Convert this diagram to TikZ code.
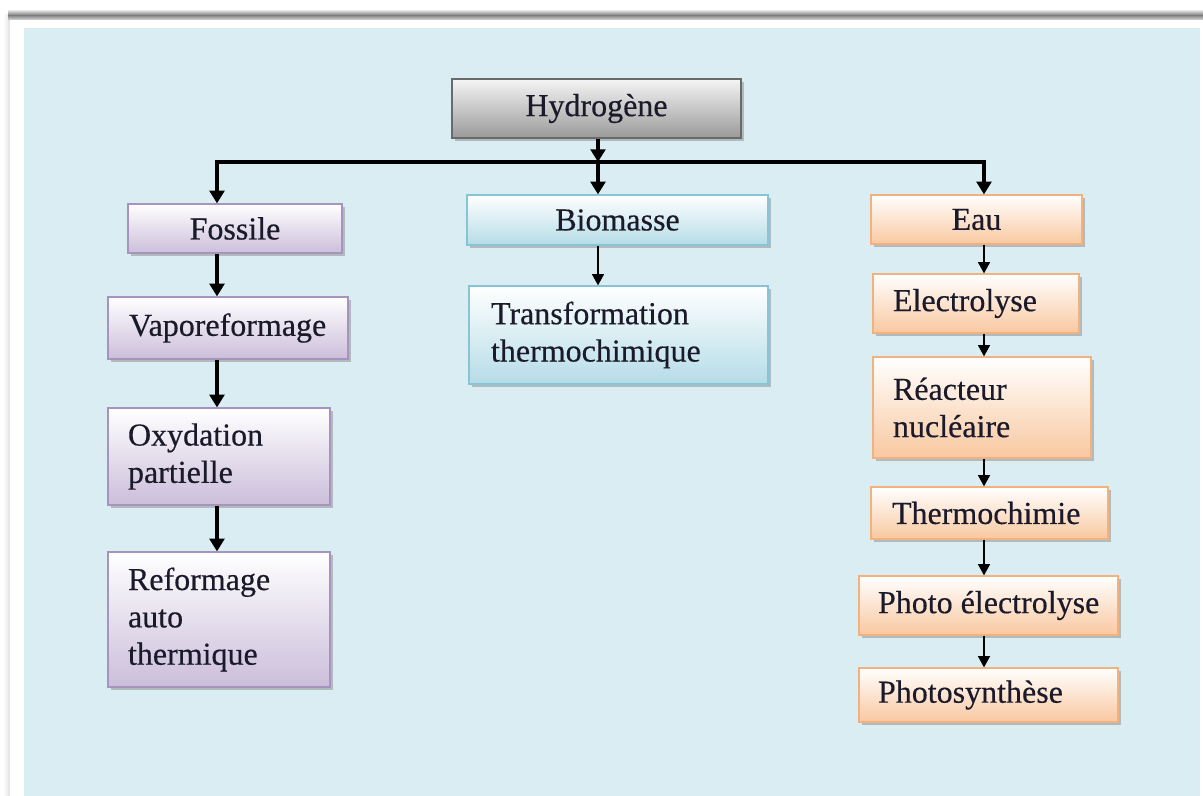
\documentclass[tikz,border=0pt]{standalone}
\usepackage{fontspec}
\setmainfont{Liberation Serif}[FakeBold=0.4]
\usetikzlibrary{arrows.meta,shadows}
\definecolor{bgblue}{HTML}{DAEDF2}
\definecolor{grayb}{HTML}{9A9A9A}
\definecolor{grayd}{HTML}{6A6A6A}
\definecolor{purb}{HTML}{CBBEDA}
\definecolor{purd}{HTML}{A694BE}
\definecolor{blub}{HTML}{B5DCE7}
\definecolor{blud}{HTML}{86C4D6}
\definecolor{orab}{HTML}{F9C8A0}
\definecolor{orad}{HTML}{F2B27E}
\definecolor{txt}{HTML}{1A1A2A}
\tikzset{
  boxbase/.style={draw, rectangle, inner ysep=0pt, line width=0.9pt,
    font=\fontsize{24}{28}\selectfont, text=txt,
    drop shadow={shadow xshift=2pt, shadow yshift=-2pt, opacity=0.45}},
  hydbox/.style={boxbase, top color=white!96!black, bottom color=grayb, draw=grayd, align=center},
  fosbox/.style={boxbase, top color=white, bottom color=purb, draw=purd},
  biobox/.style={boxbase, top color=white, bottom color=blub, draw=blud},
  eaubox/.style={boxbase, top color=white, bottom color=orab, draw=orad},
  ctr/.style={align=center},
  lft/.style={align=flush left},
  thk/.style={line width=2.3pt, -{Triangle[width=11pt,length=9.5pt]}},
  thn/.style={line width=1.2pt, -{Triangle[width=9pt,length=8.5pt]}}
}
\newcommand\mkbox[8]{%
  \pgfmathsetmacro\mytw{(#4-#2-2*#7)*0.75}%
  \node[#6, inner xsep={#7*0.75pt}, minimum width={(#4-#2)*0.75pt},
    minimum height={(#5-#3)*0.75pt}, text width=\mytw pt]
    (#1) at ({(#2+#4)/2},{(#3+#5)/2}) {#8};}
\begin{document}
\begin{tikzpicture}[x=0.75pt,y=-0.75pt]
\useasboundingbox (0,0) rectangle (1203,796);
\fill[white] (0,0) rectangle (1203,796);
% frame shadow
\shade[left color=white, right color=black!12] (3,14) rectangle (10,796);
\shade[top color=white, bottom color=black!50] (8,9) rectangle (1203,15);
\shade[top color=black!50, bottom color=black!15] (8,15) rectangle (1203,20);
\fill[white] (10,20) rectangle (1203,796);
\fill[bgblue] (24,28) rectangle (1200,796);
% boxes
\mkbox{hyd}{452}{79}{741}{138}{hydbox}{5}{Hydrogène}
\mkbox{fos}{128}{204}{342}{253}{fosbox,ctr}{5}{Fossile}
\mkbox{vap}{108}{297}{348}{359}{fosbox,lft}{21}{Vaporeformage}
\mkbox{oxy}{108}{408}{330}{505}{fosbox,lft}{20}{Oxydation\\partielle}
\mkbox{ref}{108}{552}{330}{687}{fosbox,lft}{20}{Reformage\\auto\\thermique}
\mkbox{bio}{467}{195}{768}{245}{biobox,ctr}{5}{Biomasse}
\mkbox{tra}{469}{286}{768}{384}{biobox,lft}{22}{Transformation\\thermochimique}
\mkbox{eau}{871}{195}{1082}{244}{eaubox,ctr}{5}{Eau}
\mkbox{ele}{873}{274}{1079}{333}{eaubox,lft}{20}{Electrolyse}
\mkbox{rea}{873}{357}{1091}{458}{eaubox,lft}{20}{Réacteur\\nucléaire}
\mkbox{the}{871}{487}{1108}{539}{eaubox,lft}{21}{Thermochimie}
\mkbox{pho}{859}{576}{1118}{635}{eaubox,lft}{19}{\mbox{Photo électrolyse}}
\mkbox{phs}{859}{668}{1118}{722}{eaubox,lft}{19}{Photosynthèse}
% junction coordinates
\coordinate (j) at (598,162);
\coordinate (jl) at (217,162);
\coordinate (jr) at (984,162);
% connectors
\draw[thk] (hyd.south -| j) -- (j);
\draw[thk] (j) -- (bio.north -| j);
\draw[thk] (j) -| (fos.north -| jl);
\draw[thk] (j) -| (eau.north -| jr);
\draw[thk] (fos.south -| jl) -- (vap.north -| jl);
\draw[thk] (vap.south -| jl) -- (oxy.north -| jl);
\draw[thk] (oxy.south -| jl) -- (ref.north -| jl);
\draw[thn] (bio.south -| j) -- (tra.north -| j);
\draw[thn] (eau.south -| jr) -- (ele.north -| jr);
\draw[thn] (ele.south -| jr) -- (rea.north -| jr);
\draw[thn] (rea.south -| jr) -- (the.north -| jr);
\draw[thn] (the.south -| jr) -- (pho.north -| jr);
\draw[thn] (pho.south -| jr) -- (phs.north -| jr);
\end{tikzpicture}
\end{document}
